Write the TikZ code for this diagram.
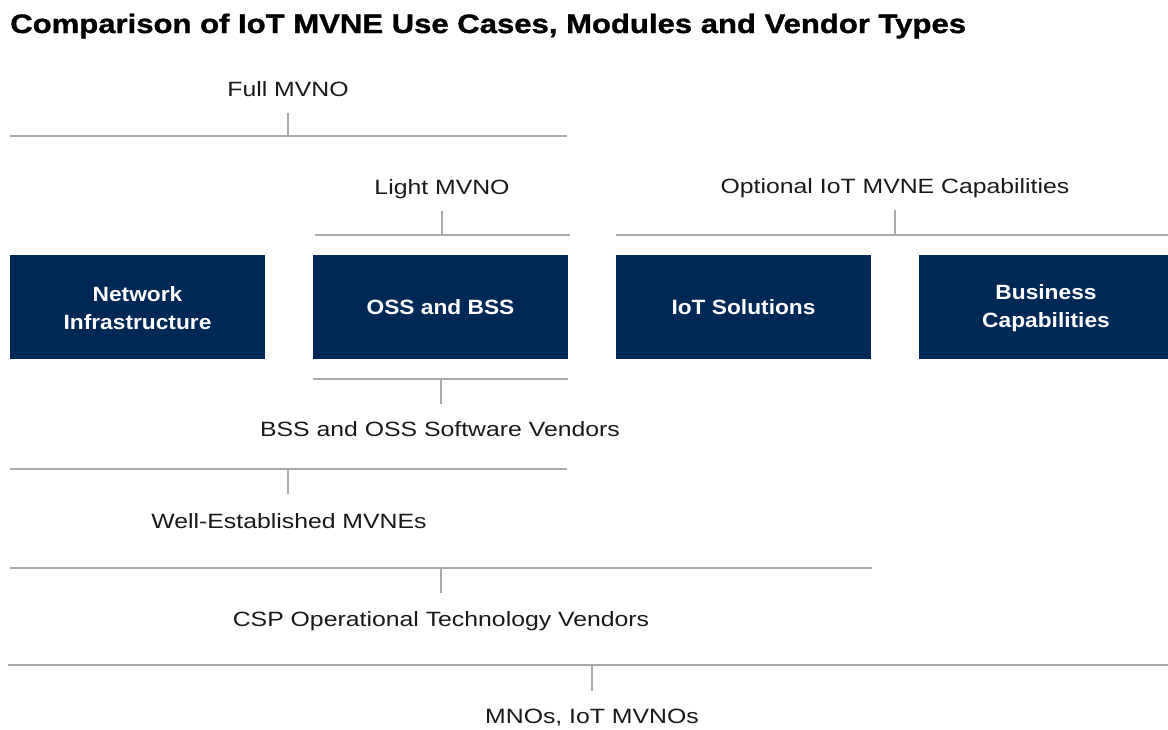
\documentclass[tikz,border=0pt]{standalone}
\usepackage{fontspec}
\setmainfont{Liberation Sans}
\newfontfamily\titlefont{Liberation Sans}[FakeStretch=1.165,BoldFeatures={FakeBold=1.2}]
\newfontfamily\lblfont{Liberation Sans}[FakeStretch=1.2]
\newfontfamily\boxfont{Liberation Sans}[FakeStretch=1.1]
\definecolor{navy}{RGB}{0,40,86}
\definecolor{rule}{RGB}{170,170,170}
\begin{document}
\begin{tikzpicture}[x=0.75pt,y=-0.75pt,
  box/.style={fill=navy,draw=none,text=white,font=\boxfont\bfseries\fontsize{15.5}{21}\selectfont,align=center,inner sep=0pt},
  lbl/.style={font=\lblfont\fontsize{15.5}{19}\selectfont,text=black!90,inner sep=0pt,anchor=base},
  hline/.style={draw=rule,line width=1.6pt},
  vline/.style={draw=rule,line width=1.1pt}]
\useasboundingbox (0,0) rectangle (1168,729);
\node[anchor=base west,inner sep=0pt,font=\titlefont\bfseries\fontsize{20}{24}\selectfont] (title) at (10,33) {Comparison of IoT MVNE Use Cases, Modules and Vendor Types};
% boxes
\path[fill=navy] (10,255) rectangle (265,359);
\node[box] (ni) at (137.5,308) {Network\\Infrastructure};
\path[fill=navy] (313,255) rectangle (568,359);
\node[box] (ob) at (440.5,307) {OSS and BSS};
\path[fill=navy] (616,255) rectangle (871,359);
\node[box] (iot) at (743.5,307) {IoT Solutions};
\path[fill=navy] (919,255) rectangle (1168,359);
\node[box] (bc) at (1046,308) {Business\\Capabilities};
% Full MVNO
\coordinate (fa) at (10,136); \coordinate (fb) at (567,136);
\coordinate (fm) at (288,136); \coordinate (ft) at (288,113);
\draw[hline] (fa) -- (fb); \draw[vline] (fm) -- (ft);
\node[lbl] (full) at (288,96) {Full MVNO};
% Light MVNO
\coordinate (la) at (315,235); \coordinate (lb) at (570,235);
\coordinate (lm) at (442,235); \coordinate (lt) at (442,211);
\draw[hline] (la) -- (lb); \draw[vline] (lm) -- (lt);
\node[lbl] (light) at (442,194) {Light MVNO};
% Optional
\coordinate (oa) at (616,235); \coordinate (ob2) at (1168,235);
\coordinate (om) at (895,235); \coordinate (ot) at (895,210);
\draw[hline] (oa) -- (ob2); \draw[vline] (om) -- (ot);
\node[lbl] (opt) at (895,193) {Optional IoT MVNE Capabilities};
% BSS and OSS vendors
\coordinate (ba) at (313,379); \coordinate (bb) at (568,379);
\coordinate (bm) at (441,379); \coordinate (bt) at (441,404);
\draw[hline] (ba) -- (bb); \draw[vline] (bm) -- (bt);
\node[lbl] (bss) at (440,436) {BSS and OSS Software Vendors};
% Well-established
\coordinate (wa) at (10,469); \coordinate (wb) at (567,469);
\coordinate (wm) at (288,469); \coordinate (wt) at (288,494);
\draw[hline] (wa) -- (wb); \draw[vline] (wm) -- (wt);
\node[lbl] (well) at (289,528) {Well-Established MVNEs};
% CSP
\coordinate (ca) at (10,568); \coordinate (cb) at (872,568);
\coordinate (cm) at (441,568); \coordinate (ct) at (441,593);
\draw[hline] (ca) -- (cb); \draw[vline] (cm) -- (ct);
\node[lbl] (csp) at (441,626) {CSP Operational Technology Vendors};
% MNOs
\coordinate (ma) at (8,665); \coordinate (mb) at (1168,665);
\coordinate (mm) at (592,665); \coordinate (mt) at (592,691);
\draw[hline] (ma) -- (mb); \draw[vline] (mm) -- (mt);
\node[lbl] (mno) at (592,723) {MNOs, IoT MVNOs};
\end{tikzpicture}
\end{document}
